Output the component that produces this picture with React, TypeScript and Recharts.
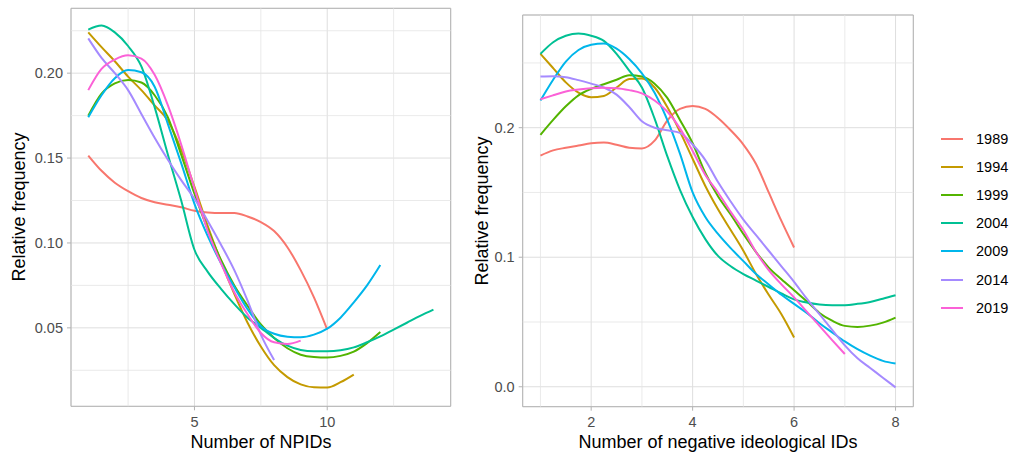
import React from "react";
import {
  LineChart, Line, XAxis, YAxis, CartesianGrid, ReferenceLine, ReferenceArea,
} from "recharts";

const YEARS = ["1989", "1994", "1999", "2004", "2009", "2014", "2019"];
const COLORS = ["#F8766D", "#C49A00", "#53B400", "#00C094", "#00B6EB", "#A58AFF", "#FB61D7"];

// left panel: number of NPIDs (x step 0.5)
const npidX = [1, 1.5, 2, 2.5, 3, 3.5, 4, 4.5, 5, 5.5, 6, 6.5, 7, 7.5, 8, 8.5, 9, 9.5, 10, 10.5, 11, 11.5, 12, 12.5, 13, 13.5, 14];
const npid1989 = [0.1515, 0.1425, 0.1355, 0.1305, 0.1265, 0.124, 0.1225, 0.121, 0.119, 0.118, 0.1176, 0.1176, 0.1156, 0.1123, 0.107, 0.0975, 0.084, 0.068, 0.049];
const npid1994 = [0.224, 0.2153, 0.207, 0.198, 0.190, 0.181, 0.172, 0.155, 0.133, 0.110, 0.089, 0.070, 0.053, 0.039, 0.028, 0.021, 0.0167, 0.015, 0.0149, 0.018, 0.0225];
const npid1999 = [0.175, 0.188, 0.194, 0.196, 0.1945, 0.187, 0.174, 0.152, 0.129, 0.108, 0.090, 0.075, 0.063, 0.052, 0.044, 0.038, 0.0342, 0.0328, 0.0325, 0.0335, 0.036, 0.041, 0.0475];
const npid2004 = [0.2256, 0.228, 0.224, 0.216, 0.204, 0.180, 0.152, 0.125, 0.096, 0.083, 0.073, 0.064, 0.056, 0.050, 0.044, 0.0395, 0.037, 0.0362, 0.0362, 0.0368, 0.0385, 0.0415, 0.045, 0.049, 0.053, 0.057, 0.0607];
const npid2009 = [0.174, 0.187, 0.197, 0.2018, 0.2005, 0.192, 0.170, 0.147, 0.123, 0.104, 0.088, 0.074, 0.061, 0.051, 0.0465, 0.0448, 0.0445, 0.046, 0.0495, 0.056, 0.065, 0.075, 0.087];
const npid2014 = [0.2205, 0.209, 0.200, 0.190, 0.176, 0.162, 0.149, 0.137, 0.126, 0.113, 0.099, 0.084, 0.066, 0.046, 0.031];
const npid2019 = [0.190, 0.2025, 0.208, 0.2105, 0.2085, 0.199, 0.181, 0.158, 0.132, 0.107, 0.088, 0.071, 0.058, 0.047, 0.0415, 0.0405, 0.0425];

const npidXTicks = [5, 10];
const npidXMinor = [2.5, 7.5, 12.5];
const npidYTicks = [0.05, 0.1, 0.15, 0.2];
const npidYMinor = [0.025, 0.075, 0.125, 0.175, 0.225];

// right panel: number of negative ideological IDs (x step 0.25)
const negX = [1, 1.25, 1.5, 1.75, 2, 2.25, 2.5, 2.75, 3, 3.25, 3.5, 3.75, 4, 4.25, 4.5, 4.75, 5, 5.25, 5.5, 5.75, 6, 6.25, 6.5, 6.75, 7, 7.25, 7.5, 7.75, 8];
const neg1989 = [0.1785, 0.1825, 0.1845, 0.1862, 0.188, 0.1885, 0.1868, 0.1845, 0.184, 0.190, 0.2055, 0.2145, 0.2168, 0.2145, 0.2075, 0.198, 0.187, 0.172, 0.150, 0.128, 0.1075];
const neg1994 = [0.257, 0.246, 0.235, 0.227, 0.2235, 0.2245, 0.231, 0.2375, 0.238, 0.231, 0.216, 0.197, 0.176, 0.155, 0.137, 0.121, 0.105, 0.087, 0.071, 0.056, 0.038];
const neg1999 = [0.1945, 0.206, 0.2165, 0.225, 0.23, 0.2335, 0.237, 0.2405, 0.2395, 0.234, 0.223, 0.206, 0.188, 0.165, 0.147, 0.133, 0.118, 0.104, 0.092, 0.083, 0.0745, 0.066, 0.057, 0.051, 0.047, 0.0462, 0.0472, 0.0495, 0.0534];
const neg2004 = [0.257, 0.266, 0.271, 0.2728, 0.271, 0.267, 0.257, 0.244, 0.231, 0.207, 0.178, 0.152, 0.131, 0.114, 0.101, 0.093, 0.087, 0.082, 0.077, 0.072, 0.0675, 0.065, 0.0635, 0.063, 0.063, 0.064, 0.0655, 0.068, 0.0707];
const neg2009 = [0.221, 0.237, 0.251, 0.26, 0.264, 0.265, 0.261, 0.253, 0.242, 0.227, 0.206, 0.180, 0.150, 0.131, 0.118, 0.107, 0.097, 0.087, 0.079, 0.071, 0.064, 0.057, 0.049, 0.042, 0.035, 0.029, 0.024, 0.020, 0.018];
const neg2014 = [0.2395, 0.2397, 0.239, 0.2367, 0.234, 0.231, 0.2255, 0.216, 0.205, 0.200, 0.198, 0.196, 0.187, 0.175, 0.158, 0.143, 0.129, 0.117, 0.105, 0.093, 0.081, 0.068, 0.056, 0.044, 0.032, 0.022, 0.0145, 0.007, -0.0005];
const neg2019 = [0.222, 0.225, 0.228, 0.2295, 0.2305, 0.2308, 0.2305, 0.229, 0.2265, 0.221, 0.2125, 0.1995, 0.182, 0.1635, 0.150, 0.135, 0.121, 0.104, 0.090, 0.079, 0.069, 0.058, 0.047, 0.036, 0.0253];

const negXTicks = [2, 4, 6, 8];
const negXMinor = [1, 3, 5, 7];
const negYTicks = [0, 0.1, 0.2];
const negYMinor = [0.05, 0.15, 0.25];

const buildRows = (xs: number[], series: number[][]) =>
  xs.map((x, i) => {
    const row: Record<string, number> = { x };
    YEARS.forEach((yr, k) => {
      const v = series[k][i];
      if (v !== undefined) row[yr] = v;
    });
    return row;
  });

const npidRows = buildRows(npidX, [npid1989, npid1994, npid1999, npid2004, npid2009, npid2014, npid2019]);
const negRows = buildRows(negX, [neg1989, neg1994, neg1999, neg2004, neg2009, neg2014, neg2019]);

const FONT = "'Liberation Sans', Arial, sans-serif";
const tickStyle = { fill: "#4D4D4D", fontSize: 14.5, fontFamily: FONT };

interface PanelProps {
  rows: Record<string, number>[];
  left: number;
  margin: { top: number; right: number; bottom: number; left: number };
  xDomain: [number, number];
  yDomain: [number, number];
  xTicks: number[];
  xMinor: number[];
  yTicks: number[];
  yMinor: number[];
  yDigits: number;
  xHeight: number;
}

function Panel(p: PanelProps) {
  return (
    <div style={{ position: "absolute", left: p.left, top: 0 }}>
      <LineChart width={460} height={455} data={p.rows} margin={p.margin}>
        <CartesianGrid stroke="#DEDEDE" strokeWidth={1} />
        {p.xMinor.map((v) => (
          <ReferenceLine key={"vx" + v} x={v} stroke="#E4E4E4" strokeWidth={0.8} />
        ))}
        {p.yMinor.map((v) => (
          <ReferenceLine key={"vy" + v} y={v} stroke="#E4E4E4" strokeWidth={0.8} />
        ))}
        <XAxis
          type="number" dataKey="x" domain={p.xDomain} ticks={p.xTicks} allowDataOverflow
          axisLine={false} tickLine={{ stroke: "#B3B3B3" }} tickSize={4} tickMargin={6}
          tick={tickStyle} height={p.xHeight}
        />
        <YAxis
          type="number" domain={p.yDomain} ticks={p.yTicks} allowDataOverflow
          axisLine={false} tickLine={{ stroke: "#B3B3B3" }} tickSize={4} tickMargin={4}
          tick={tickStyle} width={50} tickFormatter={(v: number) => v.toFixed(p.yDigits)}
        />
        {YEARS.map((yr, i) => (
          <Line key={yr} type="monotone" dataKey={yr} stroke={COLORS[i]} strokeWidth={2}
            dot={false} activeDot={false} isAnimationActive={false} />
        ))}
        <ReferenceArea x1={p.xDomain[0]} x2={p.xDomain[1]} y1={p.yDomain[0]} y2={p.yDomain[1]}
          fill="none" fillOpacity={0} stroke="#B3B3B3" strokeWidth={1} />
      </LineChart>
    </div>
  );
}

const titleStyle: React.CSSProperties = {
  position: "absolute", fontSize: 18, color: "#000", fontFamily: FONT,
  whiteSpace: "nowrap", lineHeight: 1,
};

export default function App() {
  return (
    <div style={{ position: "absolute", left: 0, top: 0, width: 1012, height: 455, background: "#fff", fontFamily: FONT }}>
      <Panel rows={npidRows} left={0} margin={{ top: 8.3, right: 9.3, bottom: 0, left: 21 }}
        xDomain={[0.35, 14.65]} yDomain={[0.0038, 0.2382]} xTicks={npidXTicks} xMinor={npidXMinor}
        yTicks={npidYTicks} yMinor={npidYMinor} yDigits={2} xHeight={48.7} />
      <Panel rows={negRows} left={460} margin={{ top: 15, right: 6.7, bottom: 0, left: 12.7 }}
        xDomain={[0.65, 8.35]} yDomain={[-0.0154, 0.287]} xTicks={negXTicks} xMinor={negXMinor}
        yTicks={negYTicks} yMinor={negYMinor} yDigits={1} xHeight={48.3} />

      <div style={{ ...titleStyle, left: 261, top: 442, transform: "translate(-50%, -50%)" }}>Number of NPIDs</div>
      <div style={{ ...titleStyle, left: 718, top: 442, transform: "translate(-50%, -50%)" }}>Number of negative ideological IDs</div>
      <div style={{ ...titleStyle, left: 18.5, top: 207, transform: "translate(-50%, -50%) rotate(-90deg)" }}>Relative frequency</div>
      <div style={{ ...titleStyle, left: 482, top: 211, transform: "translate(-50%, -50%) rotate(-90deg)" }}>Relative frequency</div>

      <div style={{ position: "absolute", left: 941, top: 125 }}>
        {YEARS.map((yr, i) => (
          <div key={yr} style={{ height: 28.1, display: "flex", alignItems: "center" }}>
            <svg width={22} height={4} style={{ display: "block" }}>
              <line x1={0} x2={22} y1={2} y2={2} stroke={COLORS[i]} strokeWidth={2} />
            </svg>
            <span style={{ marginLeft: 13, fontSize: 14.5, color: "#000", fontFamily: FONT }}>{yr}</span>
          </div>
        ))}
      </div>
    </div>
  );
}
